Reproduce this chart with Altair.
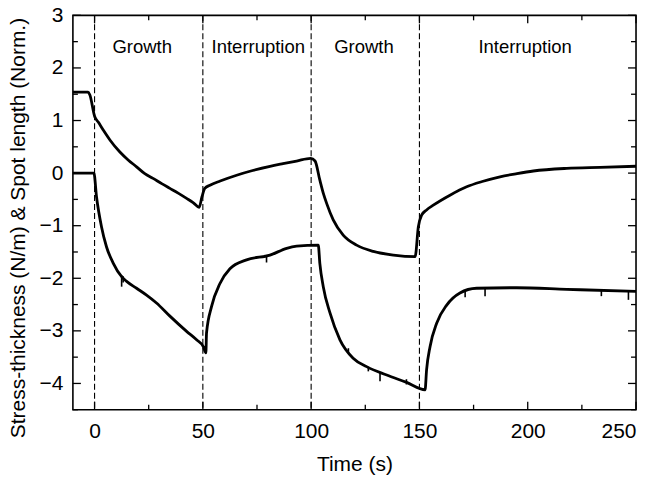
import altair as alt
import pandas as pd

# ---------------- data ----------------
upper_t = [-10, -3.0, -2.2, 0.1, 1.7, 4, 7.1, 11.7, 15.5, 19.4, 23.2, 27, 31, 34.8,
           38.6, 42.5, 45.5, 48.3, 49.6, 50.9, 53.3, 58, 65.6, 73, 81, 87, 93.3,
           99.8, 101.8, 104, 105.6, 107.2, 110.2, 114.8, 121, 128.7, 138, 148,
           149.5, 151, 153.3, 156.4, 164.1, 171.8, 179, 187.2, 195, 202.6, 218,
           233.4, 250]
upper_v = [1.54, 1.54, 1.49, 1.07, 0.97, 0.82, 0.63, 0.40, 0.25, 0.12, -0.01, -0.10,
           -0.20, -0.29, -0.38, -0.48, -0.56, -0.65, -0.45, -0.29, -0.23, -0.15,
           -0.04, 0.05, 0.13, 0.18, 0.23, 0.28, 0.23, -0.13, -0.38, -0.58, -0.89,
           -1.18, -1.37, -1.49, -1.56, -1.59, -1.02, -0.80, -0.70, -0.61, -0.42,
           -0.26, -0.16, -0.07, -0.01, 0.04, 0.09, 0.11, 0.13]

lower_t = [-10, -0.3, 0.9, 3.2, 5.5, 8.6, 12.5, 14.8, 19.4, 24, 28.6, 34.8, 42.5,
           47.1, 50.2, 51.4, 51.7, 54, 57.9, 62.5, 70.2, 81, 88.7, 93.3, 103.3,
           104, 105.6, 108.7, 113.3, 119.4, 125.6, 134.9, 144.1, 152.6, 153.3,
           154.9, 158, 162.6, 168.7, 176.4, 194.9, 218, 250]
lower_v = [0.0, 0.0, -0.45, -1.02, -1.40, -1.71, -1.97, -2.06, -2.19, -2.32, -2.47,
           -2.72, -3.01, -3.17, -3.30, -3.42, -3.04, -2.54, -2.10, -1.82, -1.65,
           -1.56, -1.43, -1.39, -1.37, -1.71, -2.16, -2.66, -3.17, -3.52, -3.68,
           -3.84, -3.98, -4.12, -3.74, -3.30, -2.85, -2.51, -2.28, -2.19, -2.18,
           -2.21, -2.25]

# noise spikes on the lower trace: time, top, bottom
spike_t = [12.5, 13.2, 79.4, 117.2, 126.4, 131.8, 144.0, 171.1, 180.3, 234.0, 246.5]
spike_hi = [-1.94, -1.96, -1.56, -3.33, -3.68, -3.80, -3.92, -2.25, -2.19, -2.23, -2.25]
spike_lo = [-2.16, -2.08, -1.70, -3.42, -3.77, -3.96, -4.02, -2.36, -2.34, -2.34, -2.41]

phase_t = [0, 50, 100, 150]
label_t = [22, 75.6, 124.4, 198.8]
label_v = [2.40, 2.40, 2.40, 2.40]
label_text = ["Growth", "Interruption", "Growth", "Interruption"]

x_major = [0, 50, 100, 150, 200, 250]
x_minor = [25, 75, 125, 175, 225]
y_major = [-4, -3, -2, -1, 0, 1, 2, 3]
y_minor = [-4.5, -3.5, -2.5, -1.5, -0.5, 0.5, 1.5, 2.5]

# ---------------- chart ----------------
W, H = 564, 395
FONT = "Liberation Sans"
xs = alt.Scale(domain=[-10, 250], nice=False, zero=False)
ys = alt.Scale(domain=[-4.5, 3], nice=False, zero=False)

upper = pd.DataFrame({"t": upper_t, "v": upper_v})
lower = pd.DataFrame({"t": lower_t, "v": lower_v})
spikes = pd.DataFrame({"t": spike_t, "v": spike_hi, "v2": spike_lo})
phases = pd.DataFrame({"t": phase_t})
labels = pd.DataFrame({"t": label_t, "v": label_v, "txt": label_text})

x_axis = alt.Axis(values=x_major, title="Time (s)", format="d",
                  labelBaseline="middle", labelPadding=22,
                  titleX=W / 2, titleY=55, titleBaseline="middle", titleAlign="center")
y_axis = alt.Axis(values=y_major, title="Stress-thickness (N/m) & Spot length (Norm.)",
                  format="d", labelPadding=10, titleAngle=270,
                  titleX=-54, titleY=H / 2 + 15, titleBaseline="middle", titleAlign="center")

X = alt.X("t:Q", scale=xs, axis=x_axis, title="Time (s)")
Y = alt.Y("v:Q", scale=ys, axis=y_axis, title="Stress-thickness (N/m) & Spot length (Norm.)")

curve_up = alt.Chart(upper).mark_line(color="black", strokeWidth=2.8, interpolate="monotone").encode(x=X, y=Y)
curve_lo = alt.Chart(lower).mark_line(color="black", strokeWidth=2.8, interpolate="monotone").encode(x=X, y=Y)
spike_layer = alt.Chart(spikes).mark_rule(color="black", strokeWidth=1.6).encode(
    x=X, y=Y, y2="v2:Q",
)
dashed = alt.Chart(phases).mark_rule(color="black", strokeWidth=1.1, strokeDash=[6, 3]).encode(x=X)
texts = alt.Chart(labels).mark_text(font=FONT, fontSize=18.5, color="black").encode(
    x=X, y=Y, text="txt:N",
)


def xticks(vals, length):
    d = pd.DataFrame({"t": vals})
    bottom = alt.Chart(d).mark_rule(color="black", strokeWidth=1.3).encode(
        x=X, y=alt.value(H), y2=alt.value(H - length))
    top = alt.Chart(d).mark_rule(color="black", strokeWidth=1.3).encode(
        x=X, y=alt.value(0), y2=alt.value(length))
    return [bottom, top]


def yticks(vals, length):
    d = pd.DataFrame({"v": vals})
    left = alt.Chart(d).mark_rule(color="black", strokeWidth=1.3).encode(
        y=Y, x=alt.value(0), x2=alt.value(length))
    right = alt.Chart(d).mark_rule(color="black", strokeWidth=1.3).encode(
        y=Y, x=alt.value(W), x2=alt.value(W - length))
    return [left, right]


tick_layers = xticks(x_major, 8) + xticks(x_minor, 5) + yticks(y_major, 8) + yticks(y_minor, 5)

chart = alt.layer(
    dashed, *tick_layers, spike_layer, curve_lo, curve_up, texts
).properties(
    width=W, height=H,
    autosize=alt.AutoSizeParams(type="none"),
    padding={"left": 65, "top": 7, "right": 12, "bottom": 65},
).configure_view(
    stroke="black", strokeWidth=1.6
).configure_axis(
    domain=False, ticks=False, tickSize=0, grid=False,
    labelFont=FONT, labelFontSize=21, labelColor="black",
    titleFont=FONT, titleFontSize=21, titleFontWeight="normal", titleColor="black",
)

chart.save("out.html", embed_options={"renderer": "svg", "actions": False})
